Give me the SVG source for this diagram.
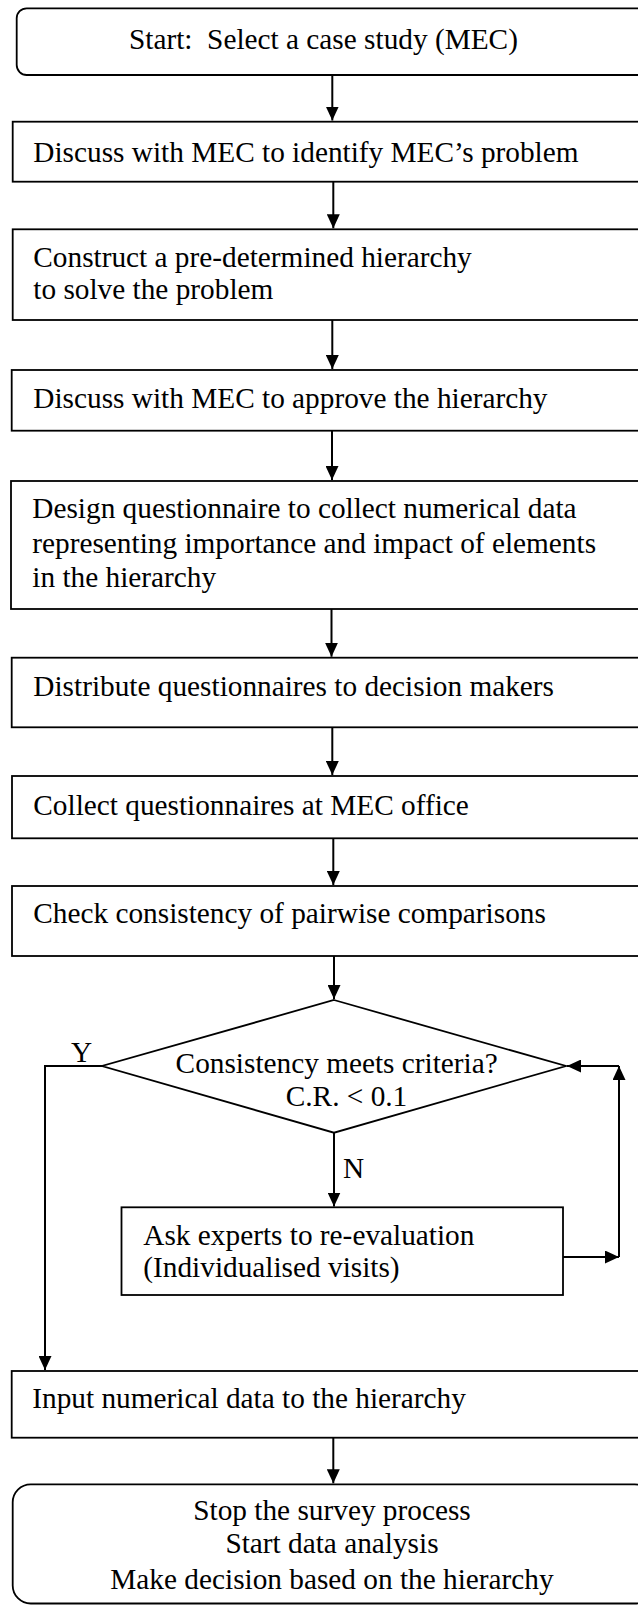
<svg xmlns="http://www.w3.org/2000/svg" width="638" height="1605" viewBox="0 0 638 1605">
  <style>
    .box { fill: #fff; stroke: #000; stroke-width: 1.8; }
    .lbl { font-family: "Liberation Serif", "Times New Roman", serif; font-size: 29.3px; fill: #000; }
    .mid { text-anchor: middle; }
    .flow { fill: none; stroke: #000; stroke-width: 2; marker-end: url(#head); }
  </style>
  <defs>
    <marker id="head" markerUnits="userSpaceOnUse" viewBox="0 0 14 13" refX="14" refY="6.5" markerWidth="14" markerHeight="13" orient="auto">
      <path d="M0,0 L14,6.5 L0,13 Z" fill="#000"/>
    </marker>
  </defs>
  <rect width="638" height="1605" fill="#fff"/>

  <!-- process steps -->
  <g id="start">
    <rect class="box" x="16.7" y="8.3" width="640" height="66.7" rx="10"/>
    <text class="lbl" x="129" y="49.3" xml:space="preserve">Start:  Select a case study (MEC)</text>
  </g>
  <g id="identify-problem">
    <rect class="box" x="12.7" y="121.7" width="640" height="60"/>
    <text class="lbl" x="33.3" y="161.7">Discuss with MEC to identify MEC’s problem</text>
  </g>
  <g id="construct-hierarchy">
    <rect class="box" x="12.7" y="229.3" width="640" height="90.7"/>
    <text class="lbl" x="33.3" y="266.7">Construct a pre-determined hierarchy</text>
    <text class="lbl" x="33.3" y="299">to solve the problem</text>
  </g>
  <g id="approve-hierarchy">
    <rect class="box" x="11.7" y="370" width="640" height="60.7"/>
    <text class="lbl" x="33.3" y="408.3">Discuss with MEC to approve the hierarchy</text>
  </g>
  <g id="design-questionnaire">
    <rect class="box" x="11" y="481" width="640" height="128"/>
    <text class="lbl" x="32.3" y="518.3">Design questionnaire to collect numerical data</text>
    <text class="lbl" x="32.3" y="553">representing importance and impact of elements</text>
    <text class="lbl" x="32.3" y="586.7">in the hierarchy</text>
  </g>
  <g id="distribute">
    <rect class="box" x="11.7" y="657.7" width="640" height="69.6"/>
    <text class="lbl" x="33.3" y="696">Distribute questionnaires to decision makers</text>
  </g>
  <g id="collect">
    <rect class="box" x="12" y="776" width="640" height="62.3"/>
    <text class="lbl" x="33.3" y="815">Collect questionnaires at MEC office</text>
  </g>
  <g id="check-consistency">
    <rect class="box" x="12" y="886" width="640" height="70"/>
    <text class="lbl" x="33.3" y="923.3">Check consistency of pairwise comparisons</text>
  </g>
  <g id="decision">
    <polygon class="box" points="334,1000 566,1066 334,1132.7 102,1066"/>
    <text class="lbl mid" x="336.7" y="1072.7">Consistency meets criteria?</text>
    <text class="lbl mid" x="346.5" y="1106">C.R. &lt; 0.1</text>
  </g>
  <g id="re-evaluate">
    <rect class="box" x="121.5" y="1207.3" width="441.5" height="87.7"/>
    <text class="lbl" x="143.3" y="1245">Ask experts to re-evaluation</text>
    <text class="lbl" x="143.3" y="1276.7">(Individualised visits)</text>
  </g>
  <g id="input-data">
    <rect class="box" x="11.7" y="1371" width="640" height="66.7"/>
    <text class="lbl" x="32.3" y="1408.3">Input numerical data to the hierarchy</text>
  </g>
  <g id="finish">
    <rect class="box" x="12.7" y="1484.3" width="640" height="119.2" rx="18"/>
    <text class="lbl mid" x="332" y="1520">Stop the survey process</text>
    <text class="lbl mid" x="332" y="1553.3">Start data analysis</text>
    <text class="lbl mid" x="332" y="1589.3">Make decision based on the hierarchy</text>
  </g>

  <!-- connectors -->
  <g id="connectors">
    <line class="flow" x1="332.3" y1="75" x2="332.3" y2="120.5"/>
    <line class="flow" x1="333.3" y1="181.7" x2="333.3" y2="228.3"/>
    <line class="flow" x1="332.3" y1="320" x2="332.3" y2="369"/>
    <line class="flow" x1="332" y1="430.7" x2="332" y2="480"/>
    <line class="flow" x1="331.5" y1="609" x2="331.5" y2="656.7"/>
    <line class="flow" x1="332.3" y1="727.3" x2="332.3" y2="775"/>
    <line class="flow" x1="333.3" y1="838.3" x2="333.3" y2="885"/>
    <line class="flow" x1="334" y1="956" x2="334" y2="999"/>
    <polyline class="flow" points="102,1066 45,1066 45,1370"/>
    <line class="flow" x1="334" y1="1132.7" x2="334" y2="1206.5"/>
    <line class="flow" x1="563" y1="1257" x2="619" y2="1257"/>
    <line class="flow" x1="619" y1="1257" x2="619" y2="1066"/>
    <line class="flow" x1="619" y1="1066" x2="567" y2="1066"/>
    <line class="flow" x1="333.3" y1="1437.7" x2="333.3" y2="1483.3"/>
    <text class="lbl mid" x="81.7" y="1061.7">Y</text>
    <text class="lbl" x="343" y="1177.7">N</text>
  </g>
</svg>
